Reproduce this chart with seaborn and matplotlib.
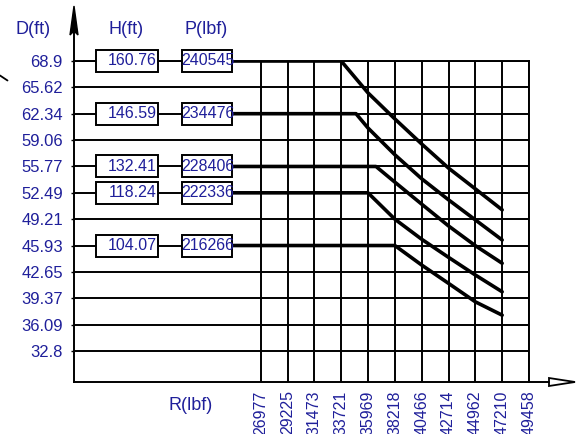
import matplotlib
matplotlib.use("Agg")
import matplotlib.pyplot as plt
from matplotlib.patches import Rectangle, Polygon
import pandas as pd
import seaborn as sns

# DATA
# ---------------------------------------------------------------------------
R_ticks = [26977, 29225, 31473, 33721, 35969, 38218, 40466, 42714, 44962, 47210, 49458]
D_ticks = [68.9, 65.62, 62.34, 59.06, 55.77, 52.49, 49.21, 45.93, 42.65, 39.37, 36.09, 32.8]
D_labels = ["68.9", "65.62", "62.34", "59.06", "55.77", "52.49", "49.21", "45.93",
            "42.65", "39.37", "36.09", "32.8"]

# one row per curve: depth, height, load
row_D = [68.9, 62.34, 55.77, 52.49, 45.93]
row_H = ["160.76", "146.59", "132.41", "118.24", "104.07"]
row_P = ["240545", "234476", "228406", "222336", "216266"]

# where each curve leaves its flat part
knee_R = [33721, 34963, 36638, 35969, 38218]

# falling part of each curve
c1_R = [35969, 38218, 40466, 42714, 44962, 47210]
c1_D = [64.93, 61.69, 58.57, 55.57, 52.98, 50.37]
c2_R = [35969, 38218, 40466, 42714, 44962, 47210]
c2_D = [60.56, 57.23, 54.24, 51.62, 49.12, 46.62]
c3_R = [38218, 40466, 42714, 44962, 47210]
c3_D = [53.82, 51.08, 48.37, 45.91, 43.72]
c4_R = [38218, 40466, 42714, 44962, 47210]
c4_D = [49.21, 46.71, 44.46, 42.26, 40.17]
c5_R = [40466, 42714, 44962, 47210]
c5_D = [43.5, 41.22, 38.92, 37.26]
tails_R = [c1_R, c2_R, c3_R, c4_R, c5_R]
tails_D = [c1_D, c2_D, c3_D, c4_D, c5_D]

# LAYOUT (pixels of a 579x434 image)
# ---------------------------------------------------------------------------
W, H = 579, 434
AX_L, AX_R, AX_T, AX_B = 74, 529, 61, 382
X_MIN, X_MAX = 11334, 49458
Y_MIN, Y_MAX = 28.94, 68.9
H_BOX = (96, 158)
P_BOX = (182, 232)
BOX_H = 22
BLUE = "#1f1f9a"
GRID_LW = 1.4


def px_to_R(px):
    return X_MIN + (px - AX_L) * (X_MAX - X_MIN) / (AX_R - AX_L)


def fx(px):
    return px / W


def fy(py):
    return 1 - py / H


sns.set_theme(style="white")
plt.rcParams["font.family"] = ["Liberation Sans", "DejaVu Sans"]

fig = plt.figure(figsize=(W / 100, H / 100), dpi=100)
ax = fig.add_axes([fx(AX_L), fy(AX_B), (AX_R - AX_L) / W, (AX_B - AX_T) / H])
ax.set_xlim(X_MIN, X_MAX)
ax.set_ylim(Y_MIN, Y_MAX)

# grid: full width horizontals, verticals only at the R ticks
ax.hlines(D_ticks, X_MIN, X_MAX, color="black", lw=GRID_LW, zorder=1)
ax.vlines(R_ticks, Y_MIN, Y_MAX, color="black", lw=GRID_LW, zorder=1)
for s in ax.spines.values():
    s.set_color("black")
    s.set_linewidth(GRID_LW)

# curves
start_R = px_to_R(P_BOX[1])
rows = []
for i in range(len(row_D)):
    xs = [start_R, knee_R[i]] + tails_R[i]
    ys = [row_D[i], row_D[i]] + tails_D[i]
    for x, y in zip(xs, ys):
        rows.append({"R": x, "D": y, "curve": i})
df = pd.DataFrame(rows)
sns.lineplot(data=df, x="R", y="D", hue="curve", palette=["black"] * 5, legend=False,
             estimator=None, sort=False, lw=2.6, ax=ax, zorder=3)

# H and P boxes
for d, h, p in zip(row_D, row_H, row_P):
    dy = BOX_H / 2 * (Y_MAX - Y_MIN) / (AX_B - AX_T)
    for (l, r) in (H_BOX, P_BOX):
        ax.add_patch(Rectangle((px_to_R(l), d - dy), px_to_R(r) - px_to_R(l), 2 * dy,
                               facecolor="white", edgecolor="black", lw=GRID_LW,
                               zorder=4, clip_on=False))
    ax.text(px_to_R(H_BOX[1] - 1), d, h, ha="right", va="center", color=BLUE,
            fontsize=11.5, zorder=5)
    ax.text(px_to_R((P_BOX[0] + P_BOX[1]) / 2 + 1), d, p, ha="center", va="center",
            color=BLUE, fontsize=11.5, zorder=5)

# ticks
ax.set_yticks(D_ticks)
ax.set_yticklabels(D_labels, color=BLUE, fontsize=12)
ax.set_xticks(R_ticks)
ax.set_xticklabels([str(r) for r in R_ticks], rotation=90, color=BLUE, fontsize=11.5)
ax.tick_params(axis="y", length=2, width=1, color="black", pad=6, left=True)
ax.tick_params(axis="x", length=0, pad=6)
ax.set_xlabel("")
ax.set_ylabel("")

# axis arrows
fig.add_artist(plt.Line2D([fx(AX_L), fx(AX_L)], [fy(AX_T), fy(9)], color="black", lw=GRID_LW))
fig.add_artist(Polygon([(fx(AX_L), fy(6)), (fx(AX_L - 4), fy(35)), (fx(AX_L), fy(31)),
                        (fx(AX_L + 4), fy(35))], closed=True, facecolor="black",
                       edgecolor="black", lw=1))
fig.add_artist(plt.Line2D([fx(AX_R), fx(549)], [fy(AX_B), fy(AX_B)], color="black", lw=GRID_LW))
fig.add_artist(Polygon([(fx(549), fy(AX_B - 4)), (fx(575), fy(AX_B)), (fx(549), fy(AX_B + 4))],
                       closed=True, facecolor="white", edgecolor="black", lw=1.3))
fig.add_artist(plt.Line2D([fx(0), fx(7.5)], [fy(75.5), fy(80.5)], color="black", lw=1.3))

# header labels
fig.text(fx(33), fy(29), "D(ft)", ha="center", va="center", color=BLUE, fontsize=13)
fig.text(fx(126), fy(29), "H(ft)", ha="center", va="center", color=BLUE, fontsize=13)
fig.text(fx(206), fy(29), "P(lbf)", ha="center", va="center", color=BLUE, fontsize=13)
fig.text(fx(191), fy(405), "R(lbf)", ha="center", va="center", color=BLUE, fontsize=13)

fig.savefig("out.png", dpi=100)
